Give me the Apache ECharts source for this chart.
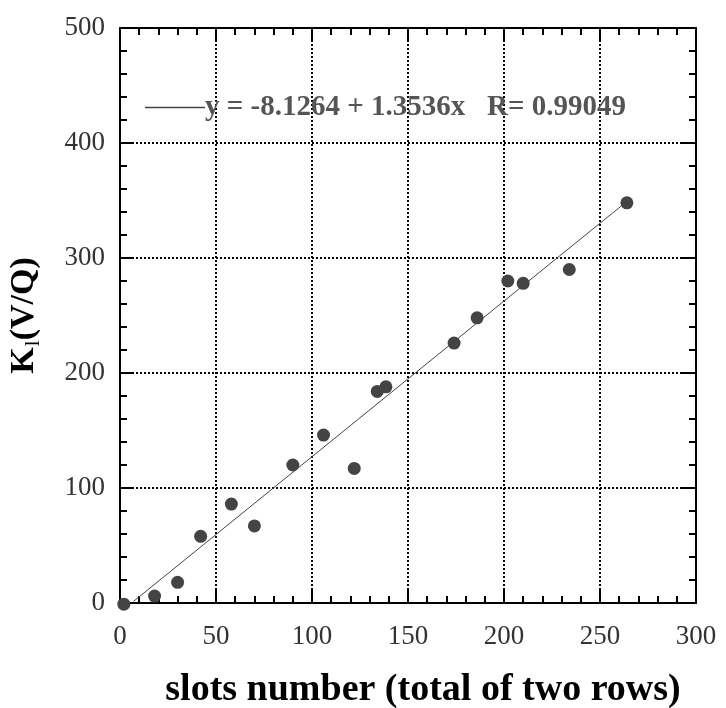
<!DOCTYPE html>
<html>
<head>
<meta charset="utf-8">
<script src="https://cdn.jsdelivr.net/npm/echarts@6/dist/echarts.min.js"></script>
<style>html,body{margin:0;padding:0;background:#fff}#c{width:726px;height:708px}</style>
</head>
<body>
<div id="c"></div>
<script>
// slots number (x) and K_l(V/Q) (y)
var slots = [2, 18, 30, 42, 58, 70, 90, 106, 122, 134, 138.5, 174, 186, 202, 210, 234, 264];
var kvq   = [-1, 6, 18, 58, 86, 67, 120, 146, 117, 184, 188, 226, 248, 280, 278, 290, 348];
var fitX = [7, 264];
var fitY = [1.35, 349.2];
var fitLabel = 'y = -8.1264 + 1.3536x   R= 0.99049';
var xTicks = [0, 50, 100, 150, 200, 250, 300];
var yTicks = [0, 100, 200, 300, 400, 500];

var serif = 'Liberation Serif';
var chart = echarts.init(document.getElementById('c'));
function axisCommon(extra) {
  var a = {
    axisLine: {show: true, onZero: false, lineStyle: {color: '#000', width: 2}},
    axisTick: {show: true, inside: true, length: 14, lineStyle: {color: '#000', width: 2}},
    minorTick: {show: true, splitNumber: 5, length: 7, lineStyle: {color: '#000', width: 2}},
    splitLine: {show: false}
  };
  for (var k in extra) a[k] = extra[k];
  return a;
}
var gridLine = {show: true, lineStyle: {color: '#000', width: 2, type: [2, 2]}};

var fitData = fitX.map(function (x, i) { return [x, fitY[i]]; });
var pts = slots.map(function (x, i) { return [x, kvq[i]]; });

chart.setOption({
  animation: false,
  backgroundColor: '#fff',
  grid: {left: 120, top: 28, right: 30, bottom: 105, outerBoundsMode: 'none', containLabel: false},
  legend: {
    left: 145, top: 93, padding: 0,
    data: [{name: fitLabel, icon: 'rect', itemStyle: {color: '#444'}}],
    itemWidth: 60, itemHeight: 1.5, itemGap: 0,
    textStyle: {fontFamily: serif, fontWeight: 'bold', fontSize: 29, color: '#555', padding: [0, 0, 0, -5]}
  },
  xAxis: [
    axisCommon({type: 'value', min: 0, max: 300, interval: 50, position: 'bottom',
      splitLine: gridLine,
      axisLabel: {show: true, margin: 20, color: '#333', fontFamily: serif, fontSize: 27,
        customValues: xTicks},
      name: 'slots number (total of two rows)', nameLocation: 'middle', nameGap: 68,
      nameTextStyle: {fontFamily: serif, fontWeight: 'bold', fontSize: 38, color: '#000', padding: [0, 0, 0, 30]}}),
    axisCommon({type: 'value', min: 0, max: 300, interval: 50, position: 'top',
      axisLabel: {show: false}})
  ],
  yAxis: [
    axisCommon({type: 'value', min: 0, max: 500, interval: 100, position: 'left',
      splitLine: gridLine,
      axisLabel: {show: true, margin: 15, color: '#333', fontFamily: serif, fontSize: 27,
        customValues: yTicks},
      name: '{k|K}{s|l}{k|(V/Q)}', nameLocation: 'middle', nameGap: 76, nameRotate: 90,
      nameTextStyle: {
        rich: {
          k: {fontFamily: serif, fontWeight: 'bold', fontSize: 34, color: '#000'},
          s: {fontFamily: serif, fontWeight: 'normal', fontSize: 22, color: '#000', padding: [18, 0, 0, 1]}
        }
      }}),
    axisCommon({type: 'value', min: 0, max: 500, interval: 100, position: 'right',
      axisLabel: {show: false}})
  ],
  series: [
    {
      name: fitLabel, type: 'line', data: fitData, symbol: 'none', showSymbol: false,
      lineStyle: {color: '#444', width: 1}, itemStyle: {color: '#444'}, z: 3
    },
    {
      name: 'data', type: 'scatter', data: pts, symbolSize: 13, clip: false,
      itemStyle: {color: '#444', opacity: 1}, z: 4
    }
  ]
});
</script>
</body>
</html>
